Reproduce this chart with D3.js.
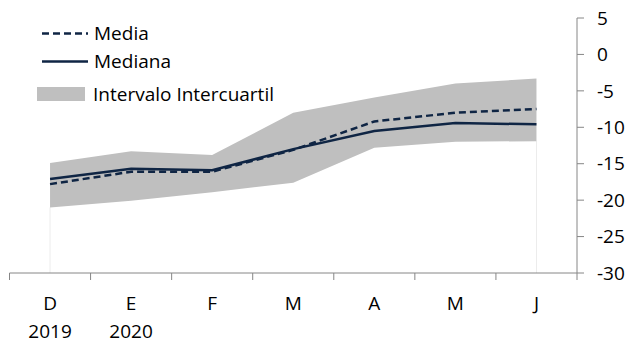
<!DOCTYPE html>
<html>
<head>
<meta charset="utf-8">
<script src="https://d3js.org/d3.v7.min.js"></script>
<style>
  body { margin: 0; background: #fff; }
  text { font-family: "Open Sans", Lato, sans-serif; fill: #000; font-size: 19px; }
</style>
</head>
<body>
<svg id="chart" width="633" height="347"></svg>
<script>
// data
const months = ["D", "E", "F", "M", "A", "M", "J"];
const years = ["2019", "2020", "", "", "", "", ""];
const media   = [-17.8, -16.1, -16.1, -13.1, -9.2, -8.0, -7.5];
const mediana = [-17.1, -15.7, -15.9, -13.0, -10.5, -9.4, -9.6];
const q1      = [-21.0, -20.1, -18.9, -17.6, -12.8, -12.0, -11.9];
const q3      = [-14.9, -13.3, -13.8, -8.0, -5.9, -4.0, -3.3];
const yTicks  = [5, 0, -5, -10, -15, -20, -25, -30];

const svg = d3.select("#chart");
const margin = {top: 18, right: 56, bottom: 74, left: 9.5};
const W = 633, H = 347;

const x = d3.scaleBand()
  .domain(d3.range(months.length))
  .range([margin.left, W - margin.right]);
const y = d3.scaleLinear()
  .domain([-30, 5])
  .range([H - margin.bottom, margin.top]);

const cx = i => x(i) + x.bandwidth() / 2;
const rows = months.map((m, i) => ({i, media: media[i], mediana: mediana[i], q1: q1[i], q3: q3[i]}));

// faint edges of the invisible base area
svg.selectAll("line.edge")
  .data([0, months.length - 1])
  .enter().append("line")
  .attr("x1", d => cx(d)).attr("x2", d => cx(d))
  .attr("y1", d => y(q1[d])).attr("y2", y(-30))
  .attr("stroke", "#ececec").attr("stroke-width", 1);

// interquartile band
svg.append("path")
  .datum(rows)
  .attr("fill", "#bfbfbf")
  .attr("d", d3.area().x(d => cx(d.i)).y0(d => y(d.q1)).y1(d => y(d.q3)));

const navy = "#0f2544";
svg.append("path")
  .datum(rows)
  .attr("fill", "none").attr("stroke", navy).attr("stroke-width", 2.5)
  .attr("d", d3.line().x(d => cx(d.i)).y(d => y(d.mediana)));
svg.append("path")
  .datum(rows)
  .attr("fill", "none").attr("stroke", navy).attr("stroke-width", 2.5)
  .attr("stroke-dasharray", "7,4")
  .attr("d", d3.line().x(d => cx(d.i)).y(d => y(d.media)));

// x axis
const axisColor = "#868686";
const xAxis = svg.append("g").attr("transform", `translate(0,${y(-30)})`);
xAxis.append("line")
  .attr("x1", margin.left).attr("x2", W - margin.right)
  .attr("stroke", axisColor).attr("stroke-width", 1);
xAxis.selectAll("line.tick")
  .data(d3.range(months.length + 1))
  .enter().append("line")
  .attr("x1", i => margin.left + i * x.step()).attr("x2", i => margin.left + i * x.step())
  .attr("y1", 0).attr("y2", 7)
  .attr("stroke", axisColor);
xAxis.selectAll("text.m")
  .data(months)
  .enter().append("text")
  .attr("x", (d, i) => cx(i)).attr("y", 30).attr("dy", "0.35em")
  .attr("text-anchor", "middle")
  .text(d => d);
xAxis.selectAll("text.yr")
  .data(years)
  .enter().append("text")
  .attr("x", (d, i) => cx(i)).attr("y", 58.5).attr("dy", "0.35em")
  .attr("text-anchor", "middle")
  .text(d => d);

// y axis on the right
const yAxis = svg.append("g").attr("transform", `translate(${W - margin.right},0)`);
yAxis.append("line")
  .attr("y1", y(5)).attr("y2", y(-30))
  .attr("stroke", axisColor);
yAxis.selectAll("line.tick")
  .data(yTicks)
  .enter().append("line")
  .attr("x1", 0).attr("x2", 7)
  .attr("y1", d => y(d)).attr("y2", d => y(d))
  .attr("stroke", axisColor);
yAxis.selectAll("text")
  .data(yTicks)
  .enter().append("text")
  .attr("x", 20).attr("y", d => y(d))
  .attr("dy", "0.35em")
  .text(d => d);

// legend
const legend = svg.append("g");
legend.append("line")
  .attr("x1", 42).attr("x2", 88).attr("y1", 33.5).attr("y2", 33.5)
  .attr("stroke", navy).attr("stroke-width", 2.5).attr("stroke-dasharray", "7,4");
legend.append("text").attr("x", 94).attr("y", 33.5).attr("dy", "0.35em")
  .text("Media");
legend.append("line")
  .attr("x1", 42).attr("x2", 88).attr("y1", 61.5).attr("y2", 61.5)
  .attr("stroke", navy).attr("stroke-width", 2.5);
legend.append("text").attr("x", 94).attr("y", 61.5).attr("dy", "0.35em")
  .text("Mediana");
legend.append("rect")
  .attr("x", 37).attr("y", 87).attr("width", 48).attr("height", 14)
  .attr("fill", "#bfbfbf");
legend.append("text").attr("x", 93).attr("y", 94).attr("dy", "0.35em")
  .text("Intervalo Intercuartil");
</script>
</body>
</html>
